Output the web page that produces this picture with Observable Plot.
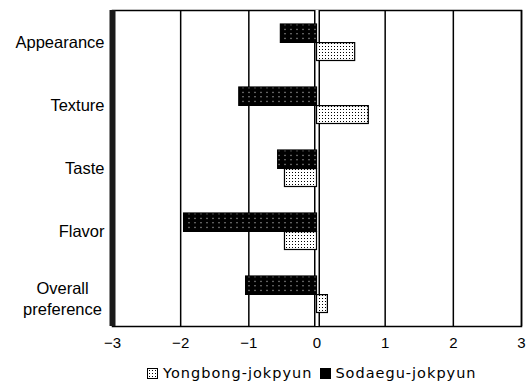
<!DOCTYPE html>
<html>
<head>
<meta charset="utf-8">
<script src="https://cdn.jsdelivr.net/npm/d3@7"></script>
<script src="https://cdn.jsdelivr.net/npm/@observablehq/plot@0.6"></script>
<style>
  html, body { margin: 0; padding: 0; background: #fff; }
  #wrap { position: relative; width: 526px; height: 383px; }
  #legend { position: absolute; left: 147px; top: 365px; font-family: "DejaVu Sans", sans-serif; font-size: 14.5px; letter-spacing: 1px; color: #000; white-space: nowrap; line-height: 17px; }
  .sw { display: inline-block; width: 9px; height: 9px; border: 1px solid #000; vertical-align: -1px; }
  .sw.y { background: #fff; background-image: radial-gradient(#000 0.6px, transparent 0.8px); background-size: 3px 3px; }
  .sw.s { background: #000; }
</style>
</head>
<body>
<div id="wrap"><div id="chart"></div><div id="legend"></div></div>
<script>
const categories = ["Appearance", "Texture", "Taste", "Flavor", "Overall preference"];
const yongbong = [0.56, 0.76, -0.47, -0.47, 0.16];
const sodaegu = [-0.53, -1.14, -0.57, -1.95, -1.04];
const seriesNames = ["Yongbong-jokpyun", "Sodaegu-jokpyun"];
const xTicks = [-3, -2, -1, 0, 1, 2, 3];
const gridTicks = [-2, -1, 1, 2, 3];

const yData = categories.map((c, i) => ({category: c, value: yongbong[i]}));
const sData = categories.map((c, i) => ({category: c, value: sodaegu[i]}));

const chart = Plot.plot({
  width: 526,
  height: 356,
  marginLeft: 112,
  marginRight: 5,
  marginTop: 10,
  marginBottom: 30,
  style: {fontFamily: "'Liberation Sans', Arial, sans-serif", color: "#000", background: "#fff"},
  x: {domain: [-3, 3]},
  y: {domain: categories, padding: 0},
  marks: [
    Plot.frame({stroke: "#000", strokeWidth: 1.5}),
    Plot.ruleX(gridTicks, {stroke: "#000", strokeWidth: 1.5}),
    Plot.ruleX([0], {stroke: "#000", strokeWidth: 6}),
    Plot.ruleX([0], {stroke: "#fff", strokeWidth: 3}),
    Plot.ruleX([-3], {stroke: "#1a1a1a", strokeWidth: 6}),
    Plot.barX(sData, {x: "value", y: "category", fill: "url(#pat-sod)", stroke: "#000", strokeWidth: 1.2, insetTop: 13, insetBottom: 31.6}),
    Plot.barX(yData, {x: "value", y: "category", fill: "url(#pat-yong)", stroke: "#000", strokeWidth: 1.2, insetTop: 31.6, insetBottom: 13.5}),
    Plot.axisX(xTicks, {tickSize: 0, tickPadding: 11, fontSize: 15, label: null}),
    Plot.axisY({tickSize: 0, tickPadding: 8, fontSize: 16.5, label: null,
      tickFormat: d => d === "Overall preference" ? "" : d}),
    Plot.text(["Overall preference"], {y: d => d, text: () => "Overall\npreference", frameAnchor: "left",
      textAnchor: "middle", dx: -50, dy: 3, lineHeight: 1.27, fontSize: 16.5})
  ]
});

chart.insertAdjacentHTML("afterbegin", `
<defs>
  <pattern id="pat-sod" patternUnits="userSpaceOnUse" width="6" height="4.5">
    <rect width="6" height="4.5" fill="#000"/>
    <rect x="2.5" y="1.8" width="1" height="1" fill="#fff"/>
  </pattern>
  <pattern id="pat-yong" patternUnits="userSpaceOnUse" width="3" height="3">
    <rect width="3" height="3" fill="#fff"/>
    <rect x="1" y="1" width="1" height="1" fill="#000"/>
  </pattern>
</defs>`);

document.getElementById("chart").appendChild(chart);

document.getElementById("legend").innerHTML =
  `<span class="sw y"></span><span style="margin-left:5px">${seriesNames[0]}</span>` +
  `<span class="sw s" style="margin-left:8px"></span><span style="margin-left:4px">${seriesNames[1]}</span>`;
</script>
</body>
</html>
